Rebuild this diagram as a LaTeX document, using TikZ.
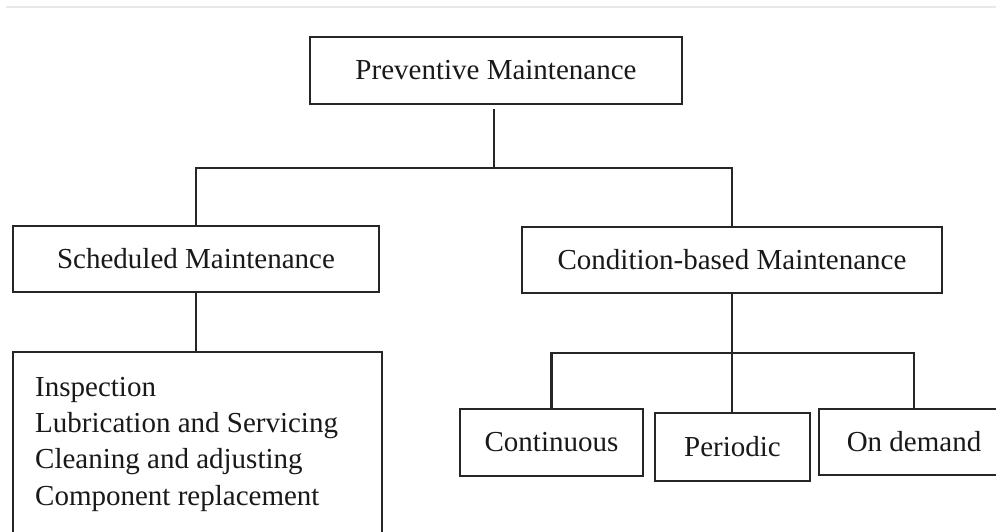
\documentclass[tikz,border=0pt]{standalone}
\usepackage{fontspec}
\setmainfont{Liberation Serif}
\begin{document}
\begin{tikzpicture}[x=1pt,y=-1pt,
  box/.style={draw=black!85, line width=2.6pt, inner sep=0pt, fill=white,
    font=\fontsize{29}{34}\selectfont, text=black!90},
  conn/.style={draw=black!85, line width=2.4pt},
  listtext/.style={font=\fontsize{29}{34}\selectfont, text=black!90, inner sep=0pt, anchor=base west}]
\useasboundingbox (0,0) rectangle (996,531);
\clip (0,0) rectangle (996,531);
\fill[white] (0,0) rectangle (996,531);
\coordinate (tl) at (6,7);
\coordinate (tr) at (996,7);
\draw[line width=1.6pt, black!9] (tl) -- (tr);
% nodes
\node[box, minimum width=372, minimum height=67] (prev) at (496,70.5) {Preventive Maintenance};
\node[box, minimum width=366, minimum height=66] (sched) at (196,259) {Scheduled Maintenance};
\node[box, minimum width=420, minimum height=66] (cond) at (732,260) {Condition-based Maintenance};
\node[box, minimum width=369, minimum height=208] (list) at (197.5,456) {};
\node[listtext] (i1) at (35,396) {Inspection};
\node[listtext] (i2) at (35,432) {Lubrication and Servicing};
\node[listtext] (i3) at (35,468.5) {Cleaning and adjusting};
\node[listtext] (i4) at (35,505) {Component replacement};
\node[box, minimum width=183, minimum height=67] (cont) at (551.5,442.5) {Continuous};
\node[box, minimum width=155, minimum height=68] (per) at (732.5,447) {Periodic};
\node[box, minimum width=190, minimum height=66] (ond) at (914,442) {On demand};
% buses
\coordinate (bus1) at (494,168);
\coordinate (bus2) at (732,353);
\coordinate (pstart) at (494,109);
% connectors
\draw[conn] (pstart) -- (bus1);
\draw[conn] (sched.north) |- (bus1) -| (cond.north);
\draw[conn] (sched.south) -- (sched.south |- list.north);
\draw[conn] (cond.south) -- (cond.south |- per.north);
\draw[conn] (cont.north) |- (bus2) -| (ond.north);
\end{tikzpicture}
\end{document}
